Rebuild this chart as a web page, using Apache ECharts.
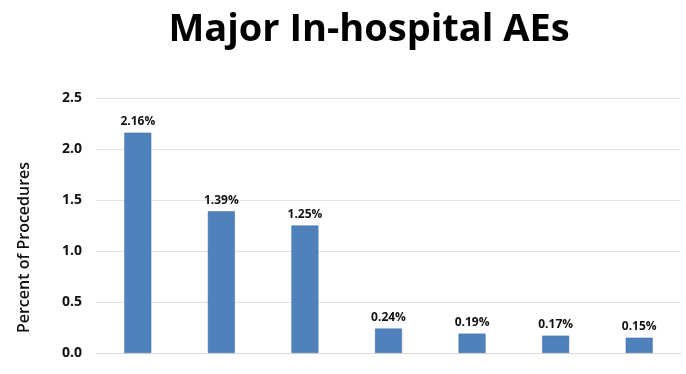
<!DOCTYPE html>
<html>
<head>
<meta charset="utf-8">
<script src="https://cdn.jsdelivr.net/npm/echarts@6/dist/echarts.min.js"></script>
<style>
html,body{margin:0;padding:0;background:#fff;}
#chart{width:686px;height:374px;}
</style>
</head>
<body>
<div id="chart"></div>
<script>
var categories = ['AE 1', 'AE 2', 'AE 3', 'AE 4', 'AE 5', 'AE 6', 'AE 7'];
var values = [2.16, 1.39, 1.25, 0.24, 0.19, 0.17, 0.15];
var yTicks = [0.0, 0.5, 1.0, 1.5, 2.0, 2.5];
var titleText = 'Major In-hospital AEs';
var yAxisName = 'Percent of Procedures';

var chart = echarts.init(document.getElementById('chart'));
chart.setOption({
  animation: false,
  backgroundColor: '#ffffff',
  title: {
    text: titleText,
    left: 364,
    textAlign: 'center',
    top: 6,
    textStyle: {fontFamily: 'Open Sans', fontWeight: 'bold', fontSize: 38, color: '#000'}
  },
  grid: {left: 96, right: 5, top: 98, bottom: 21},
  xAxis: {
    type: 'category',
    data: categories,
    axisLine: {show: true, lineStyle: {color: '#d9d9d9'}},
    axisTick: {show: false},
    axisLabel: {show: false}
  },
  yAxis: {
    type: 'value',
    min: yTicks[0],
    max: yTicks[yTicks.length - 1],
    interval: 0.5,
    name: yAxisName,
    nameLocation: 'middle',
    nameGap: 64,
    nameTextStyle: {fontFamily: 'Open Sans', fontSize: 16, fontWeight: 600, color: '#111', padding: [0, 44, 0, 0]},
    axisLine: {show: false},
    axisTick: {show: false},
    splitLine: {lineStyle: {color: '#e3e3e3'}},
    axisLabel: {
      margin: 14,
      fontFamily: 'Open Sans', fontWeight: 'bold', fontSize: 14, color: '#111',
      formatter: function (v) { return v.toFixed(1); }
    }
  },
  series: [{
    type: 'bar',
    data: values,
    barWidth: 27,
    itemStyle: {color: '#4f81bd', borderColor: '#41719c', borderWidth: 0.5},
    label: {
      show: true,
      position: 'top',
      distance: 5,
      fontFamily: 'Open Sans', fontWeight: 'bold', fontSize: 12, color: '#111',
      formatter: function (p) { return p.value.toFixed(2) + '%'; }
    }
  }]
});
</script>
</body>
</html>
